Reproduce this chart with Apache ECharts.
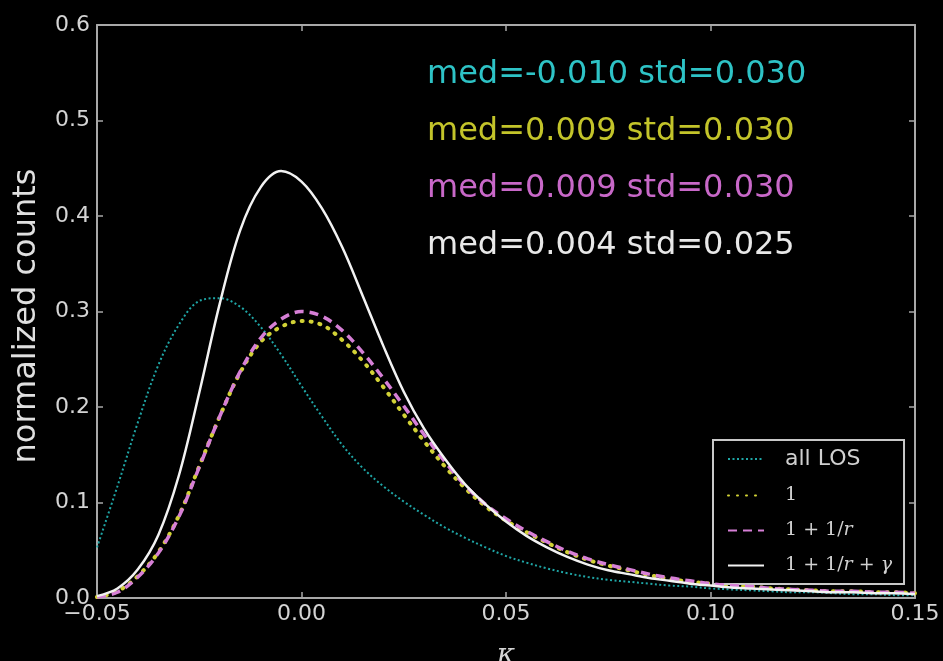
<!DOCTYPE html>
<html>
<head>
<meta charset="utf-8">
<title>kappa distributions</title>
<script src="https://cdn.jsdelivr.net/npm/echarts@6/dist/echarts.min.js"></script>
<style>
  html, body { margin: 0; padding: 0; background: #000; }
  #chart { width: 943px; height: 661px; }
</style>
</head>
<body>
<div id="chart"></div>
<script>
// convergence values (kappa) where the histograms are sampled
const kappa = [
  -0.050, -0.045, -0.040, -0.035, -0.030, -0.025, -0.020, -0.015, -0.010, -0.005,
   0.000,  0.005,  0.010,  0.015,  0.020,  0.025,  0.030,  0.035,  0.040,  0.045,
   0.050,  0.055,  0.060,  0.065,  0.070,  0.075,  0.080,  0.085,  0.090,  0.095,
   0.100,  0.105,  0.110,  0.115,  0.120,  0.125,  0.130,  0.135,  0.140,  0.145,
   0.150
];

// normalized counts for each estimator
const allLOS = [
  0.053, 0.117, 0.184, 0.244, 0.286, 0.311, 0.314, 0.305, 0.284, 0.255,
  0.222, 0.190, 0.160, 0.136, 0.117, 0.101, 0.087, 0.074, 0.063, 0.053,
  0.044, 0.037, 0.031, 0.026, 0.022, 0.019, 0.017, 0.015, 0.013, 0.012,
  0.010, 0.009, 0.008, 0.007, 0.006, 0.006, 0.005, 0.004, 0.004, 0.003,
  0.003
];
const est1 = [
  0.001, 0.007, 0.023, 0.048, 0.086, 0.138, 0.190, 0.236, 0.268, 0.284,
  0.290, 0.286, 0.270, 0.248, 0.221, 0.192, 0.164, 0.138, 0.115, 0.096,
  0.081, 0.069, 0.058, 0.048, 0.040, 0.034, 0.029, 0.024, 0.020, 0.017,
  0.015, 0.013, 0.012, 0.010, 0.009, 0.008, 0.007, 0.007, 0.006, 0.006,
  0.005
];
const est1r = [
  0.001, 0.006, 0.022, 0.047, 0.085, 0.137, 0.190, 0.237, 0.272, 0.292,
  0.300, 0.295, 0.280, 0.257, 0.230, 0.201, 0.171, 0.143, 0.118, 0.098,
  0.083, 0.070, 0.059, 0.049, 0.041, 0.035, 0.030, 0.025, 0.021, 0.018,
  0.015, 0.013, 0.012, 0.010, 0.009, 0.008, 0.007, 0.007, 0.006, 0.006,
  0.005
];
const est1rg = [
  0.002, 0.010, 0.030, 0.066, 0.128, 0.215, 0.308, 0.385, 0.430, 0.447,
  0.436, 0.408, 0.367, 0.316, 0.264, 0.216, 0.177, 0.146, 0.119, 0.098,
  0.080, 0.065, 0.053, 0.043, 0.035, 0.029, 0.025, 0.021, 0.018, 0.015,
  0.013, 0.011, 0.010, 0.009, 0.008, 0.007, 0.006, 0.006, 0.005, 0.005,
  0.004
];

// summary statistics printed in the upper right
const medians = [-0.010, 0.009, 0.009, 0.004];
const stds = [0.030, 0.030, 0.030, 0.025];

const seriesNames = ['all LOS', '1', '1+1/r', '1+1/r+γ'];
const seriesValues = [allLOS, est1, est1r, est1rg];

const xTicks = { min: -0.05, max: 0.15, step: 0.05 };
const yTicks = { min: 0.0, max: 0.6, step: 0.1 };

const lineColors = ['#1fa6a6', '#d2d236', '#d67fd6', '#f2f2f2'];
const textColors = ['#2ec3c6', '#c3c42a', '#c868c8', '#e8e8e8'];
const lineStyles = [
  { width: 2, type: [2, 2.5] },
  { width: 4, type: [1, 8], cap: 'round' },
  { width: 3.5, type: [9, 6] },
  { width: 2.5, type: 'solid' }
];

const pairs = vals => kappa.map((k, i) => [k, vals[i]]);
const minus = s => s.replace('-', '\u2212');

const chart = echarts.init(document.getElementById('chart'));

const axisLineStyle = { color: '#a8a8a8', width: 2 };
const tickStyle = { show: true, inside: true, length: 6, lineStyle: { color: '#a8a8a8', width: 1.5 } };
const labelFont = { color: '#d4d4d4', fontSize: 22, fontFamily: 'DejaVu Sans' };

const legendLabels = {
  'all LOS': 'all LOS',
  '1': '{m|1}',
  '1+1/r': '{m|1 + 1/}{i|r}',
  '1+1/r+γ': '{m|1 + 1/}{i|r}{m| + }{i|γ}'
};

const frameAxis = (position) => ({
  type: 'value', position: position,
  axisLine: { show: true, onZero: false, lineStyle: axisLineStyle },
  axisTick: tickStyle, axisLabel: { show: false }, splitLine: { show: false }
});

const option = {
  backgroundColor: '#000',
  animation: false,
  grid: { left: 97, right: 28, top: 25, bottom: 63, containLabel: false, outerBoundsMode: 'none' },
  xAxis: [
    {
      type: 'value', position: 'bottom', min: xTicks.min, max: xTicks.max, interval: xTicks.step,
      name: 'κ', nameLocation: 'middle', nameGap: 44,
      nameTextStyle: { color: '#d4d4d4', fontSize: 28, fontStyle: 'italic', fontFamily: 'DejaVu Serif' },
      axisLine: { show: true, onZero: false, lineStyle: axisLineStyle },
      axisTick: tickStyle,
      splitLine: { show: false },
      axisLabel: Object.assign({ margin: 5, formatter: v => minus(v.toFixed(2)) }, labelFont)
    },
    Object.assign(frameAxis('top'), { min: xTicks.min, max: xTicks.max, interval: xTicks.step })
  ],
  yAxis: [
    {
      type: 'value', position: 'left', min: yTicks.min, max: yTicks.max, interval: yTicks.step,
      axisLine: { show: true, onZero: false, lineStyle: axisLineStyle },
      axisTick: tickStyle,
      splitLine: { show: false },
      axisLabel: Object.assign({ margin: 7, formatter: v => v.toFixed(1) }, labelFont)
    },
    Object.assign(frameAxis('right'), { min: yTicks.min, max: yTicks.max, interval: yTicks.step })
  ],
  legend: {
    orient: 'vertical',
    left: 713, top: 440,
    padding: [8, 12, 9, 14],
    itemWidth: 36, itemHeight: 14, itemGap: 16,
    borderColor: '#c8c8c8', borderWidth: 2,
    backgroundColor: '#000',
    data: seriesNames,
    itemStyle: { opacity: 0 },
    formatter: name => legendLabels[name],
    textStyle: {
      color: '#d0d0d0', fontSize: 22, fontFamily: 'DejaVu Sans', padding: [0, 0, 0, 16],
      rich: {
        m: { color: '#d0d0d0', fontSize: 19, fontFamily: 'DejaVu Serif' },
        i: { color: '#d0d0d0', fontSize: 19, fontFamily: 'DejaVu Serif', fontStyle: 'italic' }
      }
    }
  },
  series: seriesNames.map((name, i) => ({
    name: name,
    type: 'line',
    xAxisIndex: 0, yAxisIndex: 0,
    data: pairs(seriesValues[i]),
    smooth: 0.35,
    symbol: 'none',
    z: 2 + i,
    lineStyle: Object.assign({ color: lineColors[i] }, lineStyles[i]),
    itemStyle: { color: lineColors[i] }
  })),
  graphic: medians.map((m, i) => ({
    type: 'text',
    left: 427,
    top: 59 + i * 57,
    style: {
      text: 'med=' + m.toFixed(3) + ' std=' + stds[i].toFixed(3),
      fill: textColors[i],
      font: '32px "DejaVu Sans"'
    }
  })).concat([{
    // y-axis title, rotated to read bottom-to-top
    type: 'text',
    x: 27, y: 316,
    rotation: Math.PI / 2,
    style: {
      text: 'normalized counts',
      fill: '#e0e0e0',
      font: '32px "DejaVu Sans"',
      align: 'center',
      verticalAlign: 'middle'
    }
  }])
};

chart.setOption(option);
</script>
</body>
</html>
